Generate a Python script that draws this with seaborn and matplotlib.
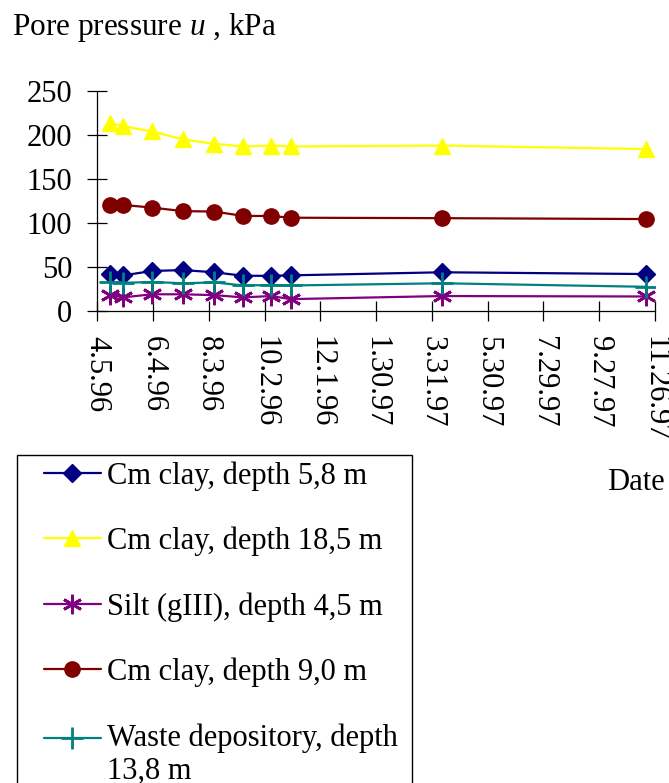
"""Pore pressure vs date, recreated with seaborn."""

import matplotlib
matplotlib.use("Agg")
import matplotlib.pyplot as plt
from matplotlib.legend_handler import HandlerLine2D
from matplotlib.patches import Rectangle
import pandas as pd
import seaborn as sns

# --- datos ---
fechas = ["1996-04-19", "1996-05-03", "1996-06-03", "1996-07-06", "1996-08-09",
          "1996-09-09", "1996-10-09", "1996-10-30", "1997-04-11", "1997-11-16"]

cm_clay_58 = [42, 40.5, 45.5, 46.5, 44, 40, 40, 40.5, 44, 42]
cm_clay_185 = [214, 210, 204, 195, 190, 187, 188, 187, 188, 184]
silt_45 = [18, 15.5, 19, 19, 18, 15.5, 17, 13.5, 17, 16.5]
cm_clay_90 = [121, 120.5, 117.5, 113.5, 113, 108, 108, 106, 105.5, 104.5]
waste_138 = [33, 32, 33, 31.5, 32.5, 29, 29.5, 29, 31.5, 27.5]

etiquetas = ["Cm clay, depth 5,8 m", "Cm clay, depth 18,5 m", "Silt (gIII), depth 4,5 m",
             "Cm clay, depth 9,0 m", "Waste depository, depth\n13,8 m"]

tick_fechas = ["1996-04-05", "1996-06-04", "1996-08-03", "1996-10-02", "1996-12-01",
               "1997-01-30", "1997-03-31", "1997-05-30", "1997-07-29", "1997-09-27",
               "1997-11-26"]
tick_labels = ["4.5.96", "6.4.96", "8.3.96", "10.2.96", "12.1.96", "1.30.97",
               "3.31.97", "5.30.97", "7.29.97", "9.27.97", "11.26.97"]

# estilos (color, marcador, tamano, grosor borde)
estilos = [
    ("#000080", "D", 9, 1.0),
    ("#FFFF00", "^", 11, 1.0),
    ("#800080", (6, 2, 0), 14, 2.0),
    ("#800000", "o", 11, 1.0),
    ("#008080", "+", 16, 2.0),
]


class HandlerPrimeraLinea(HandlerLine2D):
    """Sube el simbolo para alinearlo con la primera linea de una etiqueta doble."""

    def create_artists(self, legend, orig_handle, xdescent, ydescent, width,
                       height, fontsize, trans):
        return super().create_artists(legend, orig_handle, xdescent,
                                      ydescent - 1.1 * fontsize, width, height,
                                      fontsize, trans)


sns.set_style("ticks")
plt.rcParams["font.family"] = ["Liberation Serif", "DejaVu Serif"]
plt.rcParams["mathtext.fontset"] = "custom"
plt.rcParams["mathtext.rm"] = "Liberation Serif"
plt.rcParams["mathtext.it"] = "Liberation Serif:italic"
plt.rcParams["text.color"] = "black"
plt.rcParams["xtick.color"] = "black"
plt.rcParams["ytick.color"] = "black"

FS = 22

fig = plt.figure(figsize=(6.69, 7.83), dpi=100)
ax = fig.add_axes([97.3 / 669, 1 - 311 / 783, (655 - 97.3) / 669, (311 - 91) / 783])

x = pd.to_datetime(fechas)
series = [cm_clay_58, cm_clay_185, silt_45, cm_clay_90, waste_138]
for vals, lab, (col, mk, ms, mew) in zip(series, etiquetas, estilos):
    sns.lineplot(x=x, y=vals, ax=ax, color=col, marker=mk, markersize=ms,
                 markeredgecolor=col, markerfacecolor=col, markeredgewidth=mew,
                 linewidth=1.6, label=lab, legend=False)

ax.set_ylim(0, 250)
ax.set_yticks([0, 50, 100, 150, 200, 250])
ax.set_xlim(pd.Timestamp(tick_fechas[0]), pd.Timestamp(tick_fechas[-1]))
ax.set_xticks(pd.to_datetime(tick_fechas))
ax.set_xticklabels(tick_labels, rotation=-90, va="top", ha="center")
ax.set_xlabel("")
ax.set_ylabel("")
ax.tick_params(axis="both", direction="inout", length=14, width=0.9,
               labelsize=FS, colors="black", labelcolor="black", pad=11)
sns.despine(ax=ax)
for s in ("left", "bottom"):
    ax.spines[s].set_color("black")
    ax.spines[s].set_linewidth(0.9)

fig.text(12 / 669, 1 - 28 / 783, "Pore pressure $u$ , kPa", fontsize=22.5,
         ha="left", va="center", color="black")
fig.text(665 / 669, 1 - 483 / 783, "Date", fontsize=FS, ha="right", va="center",
         color="black")

# leyenda sin marco + marco dibujado aparte (se corta en el borde)
h, l = ax.get_legend_handles_labels()
leg = fig.legend(h, l, loc="upper left", bbox_to_anchor=(44 / 669, 1 - 461 / 783),
                 frameon=False, fontsize=FS, handlelength=1.86, handletextpad=0.2,
                 borderpad=0, borderaxespad=0, labelspacing=1.18,
                 handler_map={h[-1]: HandlerPrimeraLinea()})
for t in leg.get_texts():
    t.set_color("black")
fig.patches.append(Rectangle((17 / 669, -0.05), (412 - 17) / 669, 1 - 455 / 783 + 0.05,
                             transform=fig.transFigure, fill=False, edgecolor="black",
                             linewidth=1.0))

fig.savefig("out.png", dpi=100)
